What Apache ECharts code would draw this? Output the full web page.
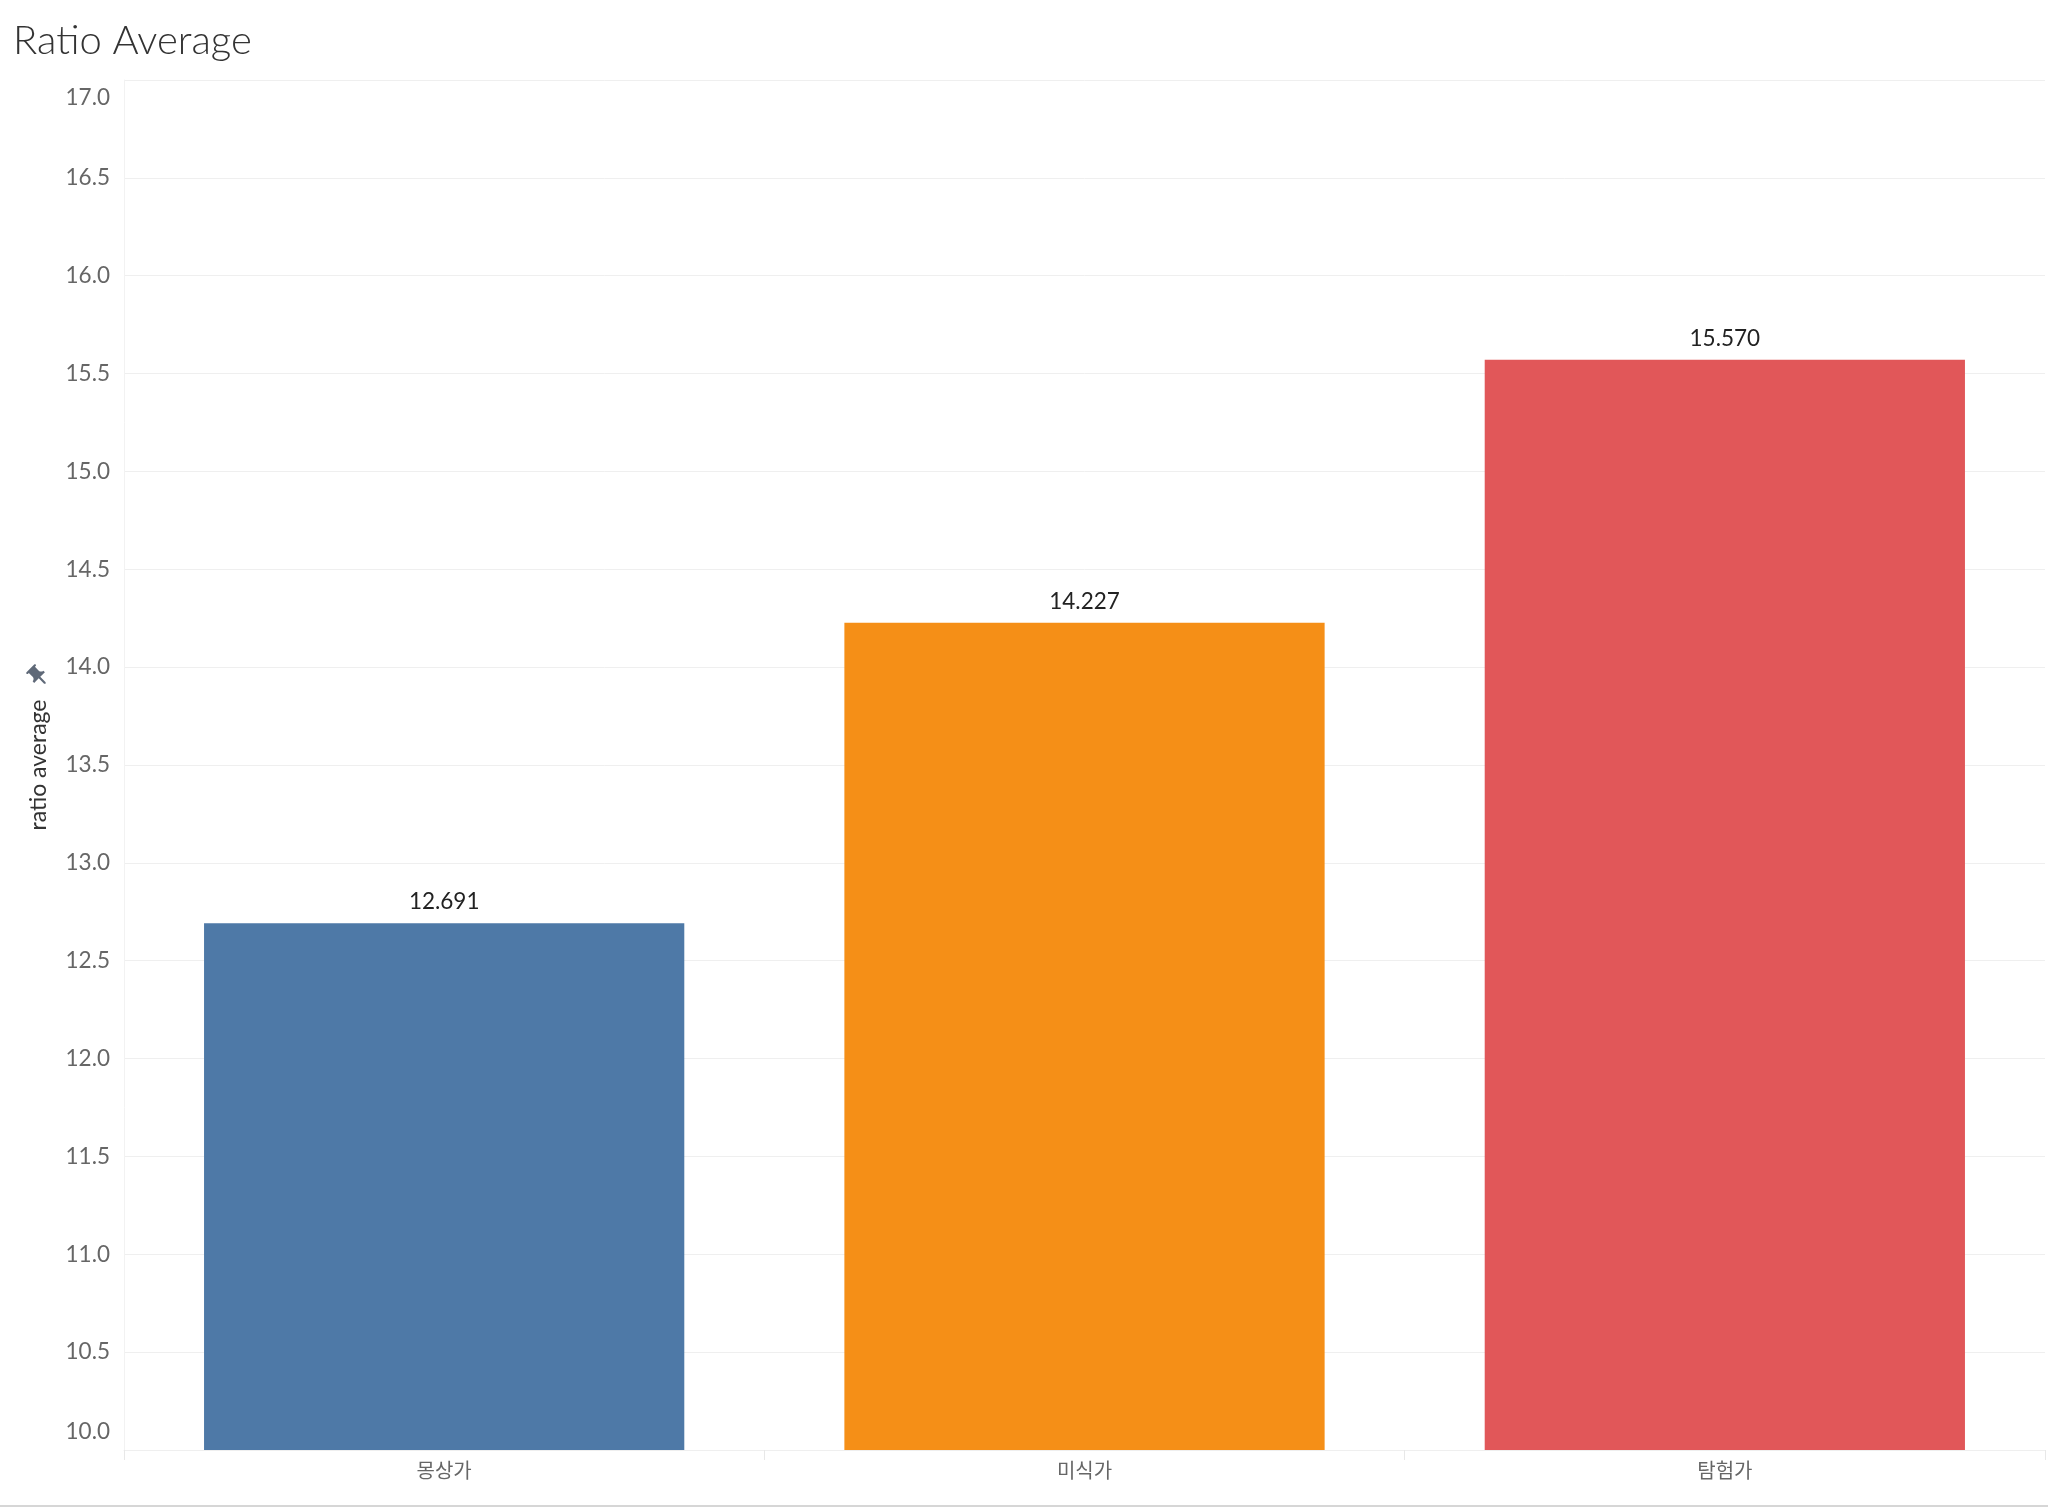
<!DOCTYPE html>
<html>
<head>
<meta charset="utf-8">
<script src="https://cdn.jsdelivr.net/npm/echarts@6/dist/echarts.min.js"></script>
<style>
html,body{margin:0;padding:0;background:#fff;}
#chart{width:2048px;height:1509px;}
</style>
</head>
<body>
<div id="chart"></div>
<script>
const categories = ['몽상가', '미식가', '탐험가'];
const values = [12.691, 14.227, 15.570];
const barColors = ['#4e79a7', '#f58f17', '#e15759'];
const yMin = 10, yMax = 17, yStep = 0.5;

const FONT = "Lato, 'Noto Sans', 'Noto Sans CJK KR', sans-serif";
const pinSvg = '<svg xmlns="http://www.w3.org/2000/svg" width="24" height="24" viewBox="0 0 24 24">' +
  '<g transform="rotate(-45 12 12)"><path fill="#5f6978" d="M16,9V4h1c0.55,0,1-0.45,1-1c0-0.55-0.45-1-1-1H7C6.45,2,6,2.45,6,3c0,0.55,0.45,1,1,1h1v5c0,1.66-1.34,3-3,3v2h5.97v7l1,1l1-1v-7H19v-2C17.34,12,16,10.66,16,9z"/></g></svg>';
const pinUrl = 'data:image/svg+xml;charset=utf-8,' + encodeURIComponent(pinSvg);

const chart = echarts.init(document.getElementById('chart'));
chart.setOption({
  backgroundColor: '#ffffff',
  animation: false,
  title: {
    text: 'Ratio Average',
    left: 8, top: 16,
    textStyle: { fontFamily: FONT, fontSize: 40, fontWeight: 300, color: '#333' }
  },
  grid: { left: 124, right: 3, top: 80, bottom: 59, containLabel: false },
  xAxis: {
    type: 'category',
    data: categories,
    axisLine: { show: true, lineStyle: { color: '#efefef', width: 1 } },
    axisTick: { show: true, alignWithLabel: false, length: 10, lineStyle: { color: '#e8e8e8' } },
    axisLabel: { fontFamily: FONT, fontSize: 20, color: '#666', margin: 12 },
    splitLine: { show: false }
  },
  yAxis: {
    type: 'value',
    min: yMin, max: yMax, interval: yStep,
    name: 'ratio average',
    nameLocation: 'middle',
    nameRotate: 90,
    nameGap: 74,
    nameTextStyle: { fontFamily: FONT, fontSize: 23, color: '#333' },
    axisLine: { show: true, lineStyle: { color: '#f2f2f2' } },
    axisTick: { show: false },
    axisLabel: {
      fontFamily: FONT, fontSize: 22.5, color: '#666', margin: 14,
      lineHeight: 36,
      verticalAlignMaxLabel: 'top',
      verticalAlignMinLabel: 'bottom',
      formatter: v => v.toFixed(1)
    },
    splitLine: { show: true, lineStyle: { color: '#efefef', width: 1 } }
  },
  series: [{
    type: 'bar',
    data: values.map((v, i) => ({ value: v, itemStyle: { color: barColors[i] } })),
    barCategoryGap: '25%',
    label: {
      show: true, position: 'top', distance: 10,
      fontFamily: FONT, fontSize: 22.5, color: '#222',
      formatter: p => p.value.toFixed(3)
    }
  }],
  graphic: [
    { type: 'rect', left: 0, top: 1505, shape: { width: 2048, height: 2 }, style: { fill: '#d6d6d6' }, silent: true },
    { type: 'image', left: 25, top: 663, style: { image: pinUrl, width: 26, height: 26 }, silent: true }
  ]
});
</script>
</body>
</html>
